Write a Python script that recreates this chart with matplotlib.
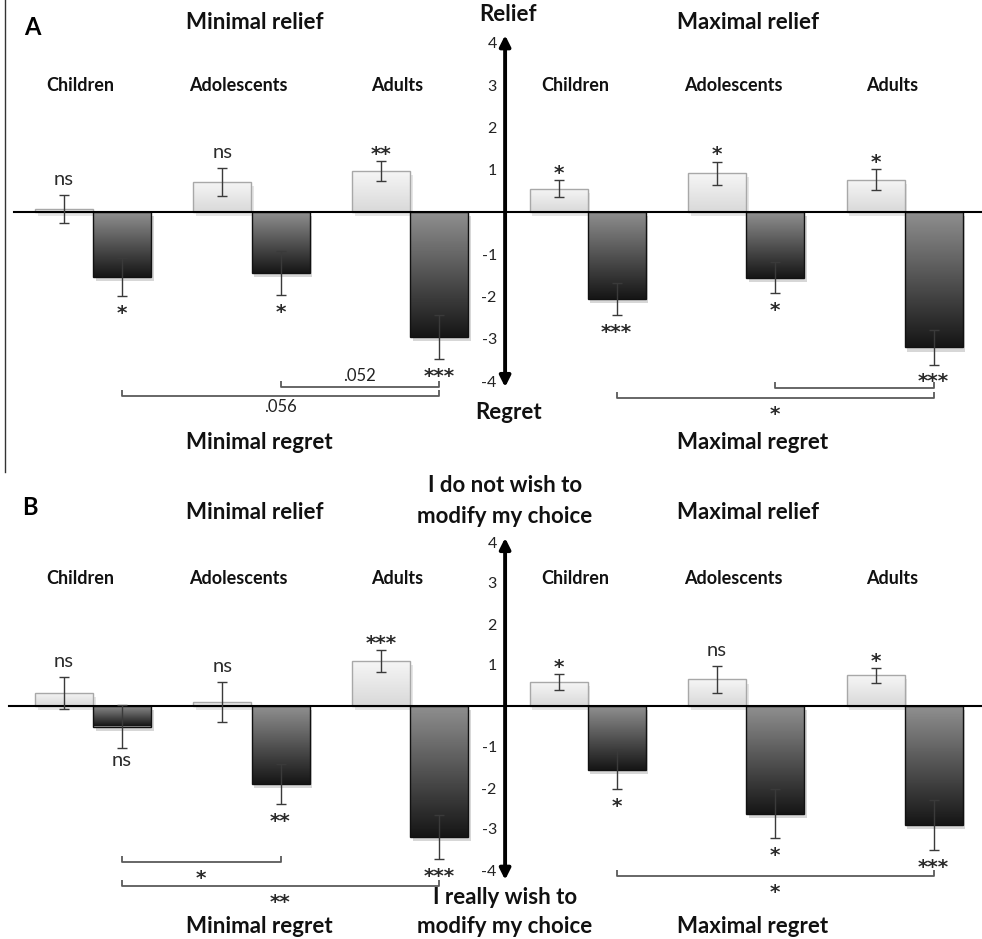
import numpy as np
import matplotlib
matplotlib.use("Agg")
import matplotlib.pyplot as plt
from matplotlib import patheffects as pe
from matplotlib.colors import LinearSegmentedColormap
from matplotlib.lines import Line2D

plt.rcParams["font.family"] = ["Lato", "DejaVu Sans"]

# ---- data ----
groups = ["Children", "Adolescents", "Adults"]

# panel A: relief (light) and regret (dark), minimal then maximal condition
a_min_relief = [0.07, 0.71, 0.97]
a_min_relief_err = [0.33, 0.32, 0.24]
a_min_regret = [-1.53, -1.44, -2.95]
a_min_regret_err = [0.45, 0.52, 0.52]
a_max_relief = [0.55, 0.92, 0.76]
a_max_relief_err = [0.20, 0.27, 0.25]
a_max_regret = [-2.06, -1.55, -3.20]
a_max_regret_err = [0.38, 0.36, 0.41]

a_min_relief_sig = ["ns", "ns", "**"]
a_min_regret_sig = ["*", "*", "***"]
a_max_relief_sig = ["*", "*", "*"]
a_max_regret_sig = ["***", "*", "***"]

# panel B: wish to modify choice
b_min_relief = [0.32, 0.10, 1.10]
b_min_relief_err = [0.39, 0.49, 0.26]
b_min_regret = [-0.50, -1.90, -3.20]
b_min_regret_err = [0.52, 0.49, 0.53]
b_max_relief = [0.58, 0.65, 0.75]
b_max_relief_err = [0.20, 0.33, 0.18]
b_max_regret = [-1.55, -2.63, -2.90]
b_max_regret_err = [0.48, 0.60, 0.61]

b_min_relief_sig = ["ns", "ns", "***"]
b_min_regret_sig = ["ns", "**", "***"]
b_max_relief_sig = ["*", "ns", "*"]
b_max_regret_sig = ["*", "*", "***"]

# brackets: (side, from group, to group, level, label, label side)
a_brackets = [("min", 1, 2, -4.14, ".052", "above"),
              ("min", 0, 2, -4.35, ".056", "below"),
              ("max", 1, 2, -4.16, "", "below"),
              ("max", 0, 2, -4.40, "*", "below")]
b_brackets = [("min", 0, 1, -3.80, "*", "below"),
              ("min", 0, 2, -4.39, "**", "below"),
              ("max", 0, 2, -4.15, "*", "below")]

# ---- layout ----
W, H = 982, 939
fig = plt.figure(figsize=(W / 100, H / 100), dpi=100)

X0_PX, UNIT_PX = 93.0, 158.5
xlim = (-X0_PX / UNIT_PX, (W - X0_PX) / UNIT_PX)
left_pos = np.arange(3)
axis_x = 2.6
right_pos = np.arange(3) + 3.12
bw = 0.366

light_cmap = LinearSegmentedColormap.from_list("lt", ["#d9d9d9", "#f6f6f6"])
dark_cmap = LinearSegmentedColormap.from_list("dk", ["#8f8f8f", "#161616"])

PX2PT = 72 / 100.0


def sig_label(ax, x, y, s, up, gap_px):
    # place the visual centre of the glyphs gap_px away from (x, y)
    if "*" in s:
        size, fam, wt, centre = 14.5, ["DejaVu Sans"], "bold", 0.585
    else:
        size, fam, wt, centre = 14.5, ["Lato", "DejaVu Sans"], "normal", 0.25
        gap_px += 2
    c_px = centre * size / PX2PT
    off = (gap_px - c_px) if up else (-gap_px - c_px)
    ax.annotate(s, (x, y), xytext=(0, off * PX2PT), textcoords="offset points",
                ha="center", va="baseline", fontsize=size, family=fam, fontweight=wt,
                color="#2a2a2a", zorder=6)


def gradient_bars(ax, xs, vals, cmap, edge, shadow):
    bars = ax.bar(xs, vals, bw, color=cmap(0.0), edgecolor="none", zorder=2,
                  path_effects=[pe.SimplePatchShadow(offset=(2, -3), shadow_rgbFace=shadow, alpha=0.5),
                                pe.Normal()])
    grad = np.linspace(0, 1, 100).reshape(-1, 1)
    for b in bars:
        x, y = b.get_x(), b.get_y()
        w, h = b.get_width(), b.get_height()
        y0, y1 = min(y, y + h), max(y, y + h)
        # gradient runs from the zero line to the bar end
        g = grad if h >= 0 else grad[::-1]
        im = ax.imshow(g, cmap=cmap, extent=(x, x + w, y0, y1), origin="lower",
                       aspect="auto", zorder=2.5, interpolation="bilinear")
        im.set_clip_path(b)
    ax.bar(xs, vals, bw, fill=False, edgecolor=edge, linewidth=1.0, zorder=3)
    return bars


def draw_side(ax, pos, relief, relief_err, regret, regret_err, relief_sig, regret_sig):
    lx = pos - bw / 2
    dx = pos + bw / 2
    gradient_bars(ax, lx, relief, light_cmap, "#a8a8a8", "#cfcfcf")
    gradient_bars(ax, dx, regret, dark_cmap, "#111111", "#b0b0b0")
    ax.errorbar(lx, relief, yerr=relief_err, fmt="none", ecolor="#3a3a3a",
                elinewidth=1.0, capsize=3.5, capthick=1.0, zorder=4)
    ax.errorbar(dx, regret, yerr=regret_err, fmt="none", ecolor="#3a3a3a",
                elinewidth=1.0, capsize=3.5, capthick=1.0, zorder=4)
    for x, v, e, s in zip(lx, relief, relief_err, relief_sig):
        sig_label(ax, x, v + e, s, True, 13)
    for x, v, e, s in zip(dx, regret, regret_err, regret_sig):
        sig_label(ax, x, v - e, s, False, 11)


def draw_brackets(ax, brackets):
    for side, g0, g1, lvl, lab, where in brackets:
        base = left_pos if side == "min" else right_pos
        x0, x1 = base[g0] + bw / 2, base[g1] + bw / 2
        ax.plot([x0, x0, x1, x1], [lvl + 0.15, lvl, lvl, lvl + 0.15],
                color="#5a5a5a", lw=1.3, zorder=4, solid_capstyle="butt")
        if not lab:
            continue
        xm = (x0 + x1) / 2
        if "*" in lab:
            sig_label(ax, xm, lvl, lab, where == "above", 10)
        elif where == "above":
            ax.text(xm, lvl + 0.08, lab, ha="center", va="bottom", fontsize=12, color="#222222")
        else:
            ax.text(xm, lvl - 0.08, lab, ha="center", va="top", fontsize=12, color="#222222")


def setup_panel(rect, ylim, zero_x0, arrow_lims):
    ax = fig.add_axes(rect)
    ax.set_xlim(*xlim)
    ax.set_ylim(*ylim)
    ax.patch.set_alpha(0)
    for sp in ["top", "right", "bottom"]:
        ax.spines[sp].set_visible(False)
    ax.spines["left"].set_position(("data", axis_x))
    ax.spines["left"].set_visible(False)
    ax.set_xticks([])
    ax.set_yticks([-4, -3, -2, -1, 1, 2, 3, 4])
    ax.set_yticklabels(["-4", "-3", "-2", "-1", "1", "2", "3", "4"])
    ax.tick_params(axis="y", length=0, pad=6, labelsize=11.5, labelcolor="#222222")
    ax.axhline(0, xmin=zero_x0, xmax=1, color="black", lw=1.5, zorder=3.5)
    ax.annotate("", xy=(axis_x, arrow_lims[1]), xytext=(axis_x, arrow_lims[0]),
                arrowprops=dict(arrowstyle="<|-|>", color="black", lw=2.8,
                                mutation_scale=16, shrinkA=0, shrinkB=0), zorder=5)
    return ax


hdr = dict(fontsize=16, fontweight="bold", ha="center", va="center", color="#111111")
grp = dict(fontsize=13, fontweight="bold", ha="center", va="center", color="#111111")

# ---- panel A ----
ylimA = (-(470 - 212) / 42.3, 212 / 42.3)
axA = setup_panel([0, 1 - 470 / H, 1, 470 / H], ylimA, 14 / W, (-4.14, 4.18))
draw_side(axA, left_pos, a_min_relief, a_min_relief_err, a_min_regret, a_min_regret_err,
          a_min_relief_sig, a_min_regret_sig)
draw_side(axA, right_pos, a_max_relief, a_max_relief_err, a_max_regret, a_max_regret_err,
          a_max_relief_sig, a_max_regret_sig)
draw_brackets(axA, a_brackets)
axA.set_xlim(*xlim)
axA.set_ylim(*ylimA)
axA.text(-0.38, 4.35, "A", fontsize=17, fontweight="bold", ha="center", va="center")
axA.text(1.02, 4.49, "Minimal relief", **hdr)
axA.text(4.13, 4.49, "Maximal relief", **hdr)
axA.text(2.62, 4.66, "Relief", **hdr)
axA.text(2.62, -4.75, "Regret", **hdr)
axA.text(1.05, -5.44, "Minimal regret", **hdr)
axA.text(4.16, -5.44, "Maximal regret", **hdr)
for p, g in zip(left_pos, groups):
    axA.text(p - 0.08, 3.0, g, **grp)
for p, g in zip(right_pos, groups):
    axA.text(p - 0.08, 3.0, g, **grp)

# ---- panel B ----
ylimB = (-(939 - 706) / 41.0, (706 - 470) / 41.0)
axB = setup_panel([0, 0, 1, 469 / H], ylimB, 9 / W, (-4.24, 4.1))
draw_side(axB, left_pos, b_min_relief, b_min_relief_err, b_min_regret, b_min_regret_err,
          b_min_relief_sig, b_min_regret_sig)
draw_side(axB, right_pos, b_max_relief, b_max_relief_err, b_max_regret, b_max_regret_err,
          b_max_relief_sig, b_max_regret_sig)
draw_brackets(axB, b_brackets)
axB.set_xlim(*xlim)
axB.set_ylim(*ylimB)
axB.text(-0.40, 4.85, "B", fontsize=17, fontweight="bold", ha="center", va="center")
axB.text(1.02, 4.71, "Minimal relief", **hdr)
axB.text(4.13, 4.71, "Maximal relief", **hdr)
axB.text(2.60, 5.37, "I do not wish to", **hdr)
axB.text(2.60, 4.63, "modify my choice", **hdr)
axB.text(2.60, -4.68, "I really wish to", **hdr)
axB.text(2.60, -5.39, "modify my choice", **hdr)
axB.text(1.05, -5.37, "Minimal regret", **hdr)
axB.text(4.16, -5.37, "Maximal regret", **hdr)
for p, g in zip(left_pos, groups):
    axB.text(p - 0.08, 3.1, g, **grp)
for p, g in zip(right_pos, groups):
    axB.text(p - 0.08, 3.1, g, **grp)

# thin frame line on the left edge of panel A
fig.add_artist(Line2D([5 / W, 5 / W], [1, 1 - 472 / H], transform=fig.transFigure,
                      color="#333333", lw=1.0))

fig.savefig("out.png", dpi=100)
